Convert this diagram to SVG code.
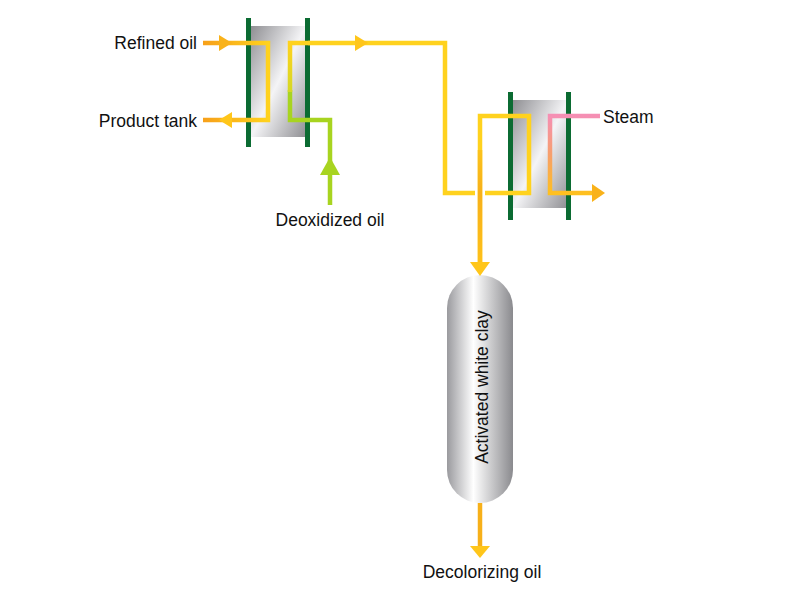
<svg xmlns="http://www.w3.org/2000/svg" width="800" height="600" viewBox="0 0 800 600">
<defs>
<linearGradient id="body" x1="0" y1="0" x2="1" y2="1">
<stop offset="0" stop-color="#8f8f93"/>
<stop offset="0.5" stop-color="#f4f4f6"/>
<stop offset="1" stop-color="#8f8f93"/>
</linearGradient>
<linearGradient id="tank" x1="0" y1="0" x2="1" y2="0">
<stop offset="0" stop-color="#9a9a9e"/>
<stop offset="0.4" stop-color="#ffffff"/>
<stop offset="1" stop-color="#8a8a8e"/>
</linearGradient>
<linearGradient id="inOil" gradientUnits="userSpaceOnUse" x1="203" y1="0" x2="268" y2="0">
<stop offset="0" stop-color="#f7a01a"/>
<stop offset="1" stop-color="#ffd21e"/>
</linearGradient>
<linearGradient id="greenOil" gradientUnits="userSpaceOnUse" x1="0" y1="205" x2="0" y2="43">
<stop offset="0" stop-color="#9ed21e"/>
<stop offset="0.5" stop-color="#b8dc2a"/>
<stop offset="1" stop-color="#ffd21e"/>
</linearGradient>
<linearGradient id="steam" gradientUnits="userSpaceOnUse" x1="0" y1="116" x2="0" y2="196">
<stop offset="0" stop-color="#f58fb4"/>
<stop offset="0.5" stop-color="#f7a06a"/>
<stop offset="1" stop-color="#ffc21a"/>
</linearGradient>
<linearGradient id="orangeDown" gradientUnits="userSpaceOnUse" x1="0" y1="116" x2="0" y2="270">
<stop offset="0" stop-color="#ffd21e"/>
<stop offset="0.5" stop-color="#f7b01a"/>
<stop offset="1" stop-color="#ffc21a"/>
</linearGradient>
</defs>
<style>
.lbl{font-family:"Liberation Sans",Arial,sans-serif;font-size:17.5px;fill:#111}
.pipe{fill:none;stroke-width:4.5;stroke-linejoin:miter;stroke-linecap:butt}
.bar{fill:#0b6b32}
.y{stroke:#ffd21e}
.ah{fill:#ffc61a}
</style>

<g id="exchanger1">
<rect x="251" y="26" width="55" height="111" fill="url(#body)"/>
<rect class="bar" x="246" y="18" width="5" height="129"/>
<rect class="bar" x="305" y="18" width="5" height="129"/>
</g>

<g id="exchanger2">
<rect x="513" y="100" width="55" height="108" fill="url(#body)"/>
<rect class="bar" x="508" y="92" width="5" height="128"/>
<rect class="bar" x="566" y="92" width="5" height="128"/>
</g>

<g id="tank-node">
<rect x="447" y="275" width="66" height="228" rx="33" ry="33" fill="url(#tank)"/>
<text class="lbl" transform="translate(488,387) rotate(-90)" text-anchor="middle">Activated white clay</text>
</g>

<g id="connectors">
<path class="pipe" stroke="url(#inOil)" d="M203,43 H268 V120 H203"/>
<polygon fill="#f9b21a" points="219,35 232,43 219,51"/>
<polygon class="ah" points="232,112 219,120 232,128"/>

<path class="pipe" stroke="#a8d420" d="M330,205 V120 H290 V90"/>
<path class="pipe" stroke="url(#greenOil)" d="M290,92 V43 H310"/>
<path class="pipe y" d="M308,43 H445 V193 H475"/>
<polygon class="ah" points="355,35 368,43 355,51"/>
<polygon fill="#a8d420" points="320,175 330,157 340,175"/>

<path class="pipe y" d="M485,193 H529 V116 H480 V262"/>
<path class="pipe" stroke="url(#orangeDown)" d="M480,150 V264"/>
<polygon class="ah" points="470,262 490,262 480,276"/>

<path class="pipe" stroke="url(#steam)" d="M600,116 H550 V193 H594"/>
<polygon fill="#f9b21a" points="592,184 605,193 592,202"/>

<path class="pipe" stroke="#f7b01a" d="M480,503 V548"/>
<polygon class="ah" points="470,546 490,546 480,558"/>
</g>

<g id="labels">
<text class="lbl" x="197" y="49" text-anchor="end">Refined oil</text>
<text class="lbl" x="197" y="127" text-anchor="end">Product tank</text>
<text class="lbl" x="330" y="226" text-anchor="middle">Deoxidized oil</text>
<text class="lbl" x="603" y="123">Steam</text>
<text class="lbl" x="482" y="578" text-anchor="middle">Decolorizing oil</text>
</g>
</svg>
